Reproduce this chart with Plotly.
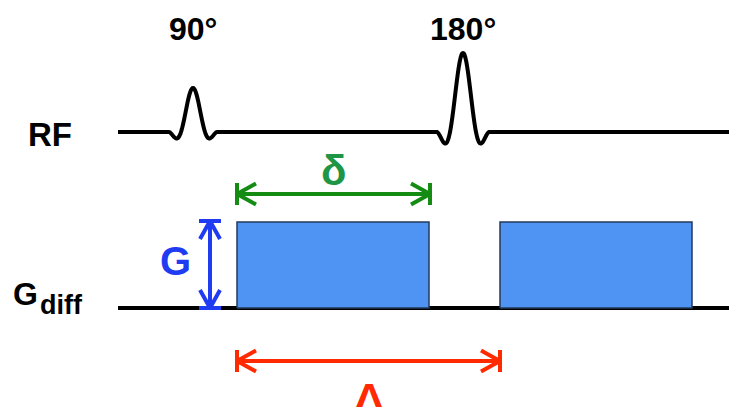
import numpy as np
import plotly.graph_objects as go

# ---- diagram data (pixel-like timeline units, y up) ----
rf_labels = ["90°", "180°"]
rf_centers = [193, 463]
rf_amplitudes = [44, 79]
rf_halfwidths = [12, 13]
rf_baseline = 275

grad_starts = [237, 500]
grad_ends = [429, 692]
grad_amplitude = 86
grad_baseline = 99

line_start = 118
line_end = 729

delta_small = [237, 430]   # δ : gradient duration
delta_small_y = 213
delta_big = [237, 500]     # Δ : separation
delta_big_y = 46
g_arrow_x = 210

W, H = 729, 407

fig = go.Figure()

# RF line
x_rf = np.arange(line_start, line_end + 0.5, 0.5)
y_rf = np.full_like(x_rf, rf_baseline, dtype=float)
for c, a, hw in zip(rf_centers, rf_amplitudes, rf_halfwidths):
    t = (x_rf - c) / hw
    m = np.abs(t) < 2
    y_rf[m] += a * np.sinc(t[m]) * np.sqrt(np.cos(np.pi * t[m] / 4))
fig.add_trace(go.Scatter(x=x_rf, y=y_rf, mode="lines",
                         line=dict(color="black", width=4, shape="spline"),
                         hoverinfo="skip"))

# Gradient baseline
fig.add_trace(go.Scatter(x=[line_start, line_end], y=[grad_baseline, grad_baseline],
                         mode="lines", line=dict(color="black", width=4), hoverinfo="skip"))

# Gradient lobes
for s, e in zip(grad_starts, grad_ends):
    top = grad_baseline + grad_amplitude
    fig.add_trace(go.Scatter(x=[s, s, e, e, s],
                             y=[grad_baseline, top, top, grad_baseline, grad_baseline],
                             mode="lines", fill="toself", fillcolor="#4f94f3",
                             line=dict(color="#233a5a", width=1.5), hoverinfo="skip"))


def h_arrow(x0, x1, y, leg=19, spread=10.5, bar=11):
    xs, ys = [x0, x1, None], [y, y, None]
    for tip, d in ((x0, 1), (x1, -1)):
        xs += [tip + d * leg, tip, tip + d * leg, None]
        ys += [y + spread, y, y - spread, None]
        xs += [tip, tip, None]
        ys += [y + bar, y - bar, None]
    return xs, ys


def v_arrow(x, y0, y1, leg=18, spread=10, bar=11):
    xs, ys = [x, x, None], [y0, y1, None]
    for tip, d in ((y0, 1), (y1, -1)):
        xs += [x - spread, x, x + spread, None]
        ys += [tip + d * leg, tip, tip + d * leg, None]
        xs += [x - bar, x + bar, None]
        ys += [tip, tip, None]
    return xs, ys


xs, ys = h_arrow(delta_small[0], delta_small[1], delta_small_y)
fig.add_trace(go.Scatter(x=xs, y=ys, mode="lines",
                         line=dict(color="#148c14", width=4), hoverinfo="skip"))
xs, ys = h_arrow(delta_big[0], delta_big[1], delta_big_y)
fig.add_trace(go.Scatter(x=xs, y=ys, mode="lines",
                         line=dict(color="#ff2a00", width=4), hoverinfo="skip"))
xs, ys = v_arrow(g_arrow_x, grad_baseline, grad_baseline + grad_amplitude + 1)
fig.add_trace(go.Scatter(x=xs, y=ys, mode="lines",
                         line=dict(color="#1f3cf2", width=4), hoverinfo="skip"))

FONT = "Liberation Sans, Arial, sans-serif"


def label(text, x, y, size, color="black", xanchor="center"):
    fig.add_annotation(x=x, y=y, text="<b>" + text + "</b>", showarrow=False,
                       xanchor=xanchor, yanchor="middle",
                       font=dict(family=FONT, size=size, color=color))


for lab, c in zip(rf_labels, rf_centers):
    label(lab, c, 378, 32)

label("RF", 50, 273, 33)
label("G", 25, 113, 32)
label("diff", 38, 102, 27, xanchor="left")
label("G", 175, 146, 40, color="#1f3cf2")
label("δ", (delta_small[0] + delta_small[1]) / 2, 237, 42, color="#1e9646")
label("Δ", 369, 9, 42, color="#ff2a00")

fig.update_layout(
    width=W, height=H, autosize=False,
    margin=dict(l=0, r=0, t=0, b=0),
    paper_bgcolor="white", plot_bgcolor="white",
    showlegend=False,
    xaxis=dict(range=[0, W], visible=False, fixedrange=True),
    yaxis=dict(range=[0, H], visible=False, fixedrange=True),
)

fig.write_html("out.html", config={"displayModeBar": False},
               post_script="document.body.style.margin='0px';"
                           "document.body.style.overflow='hidden';")
